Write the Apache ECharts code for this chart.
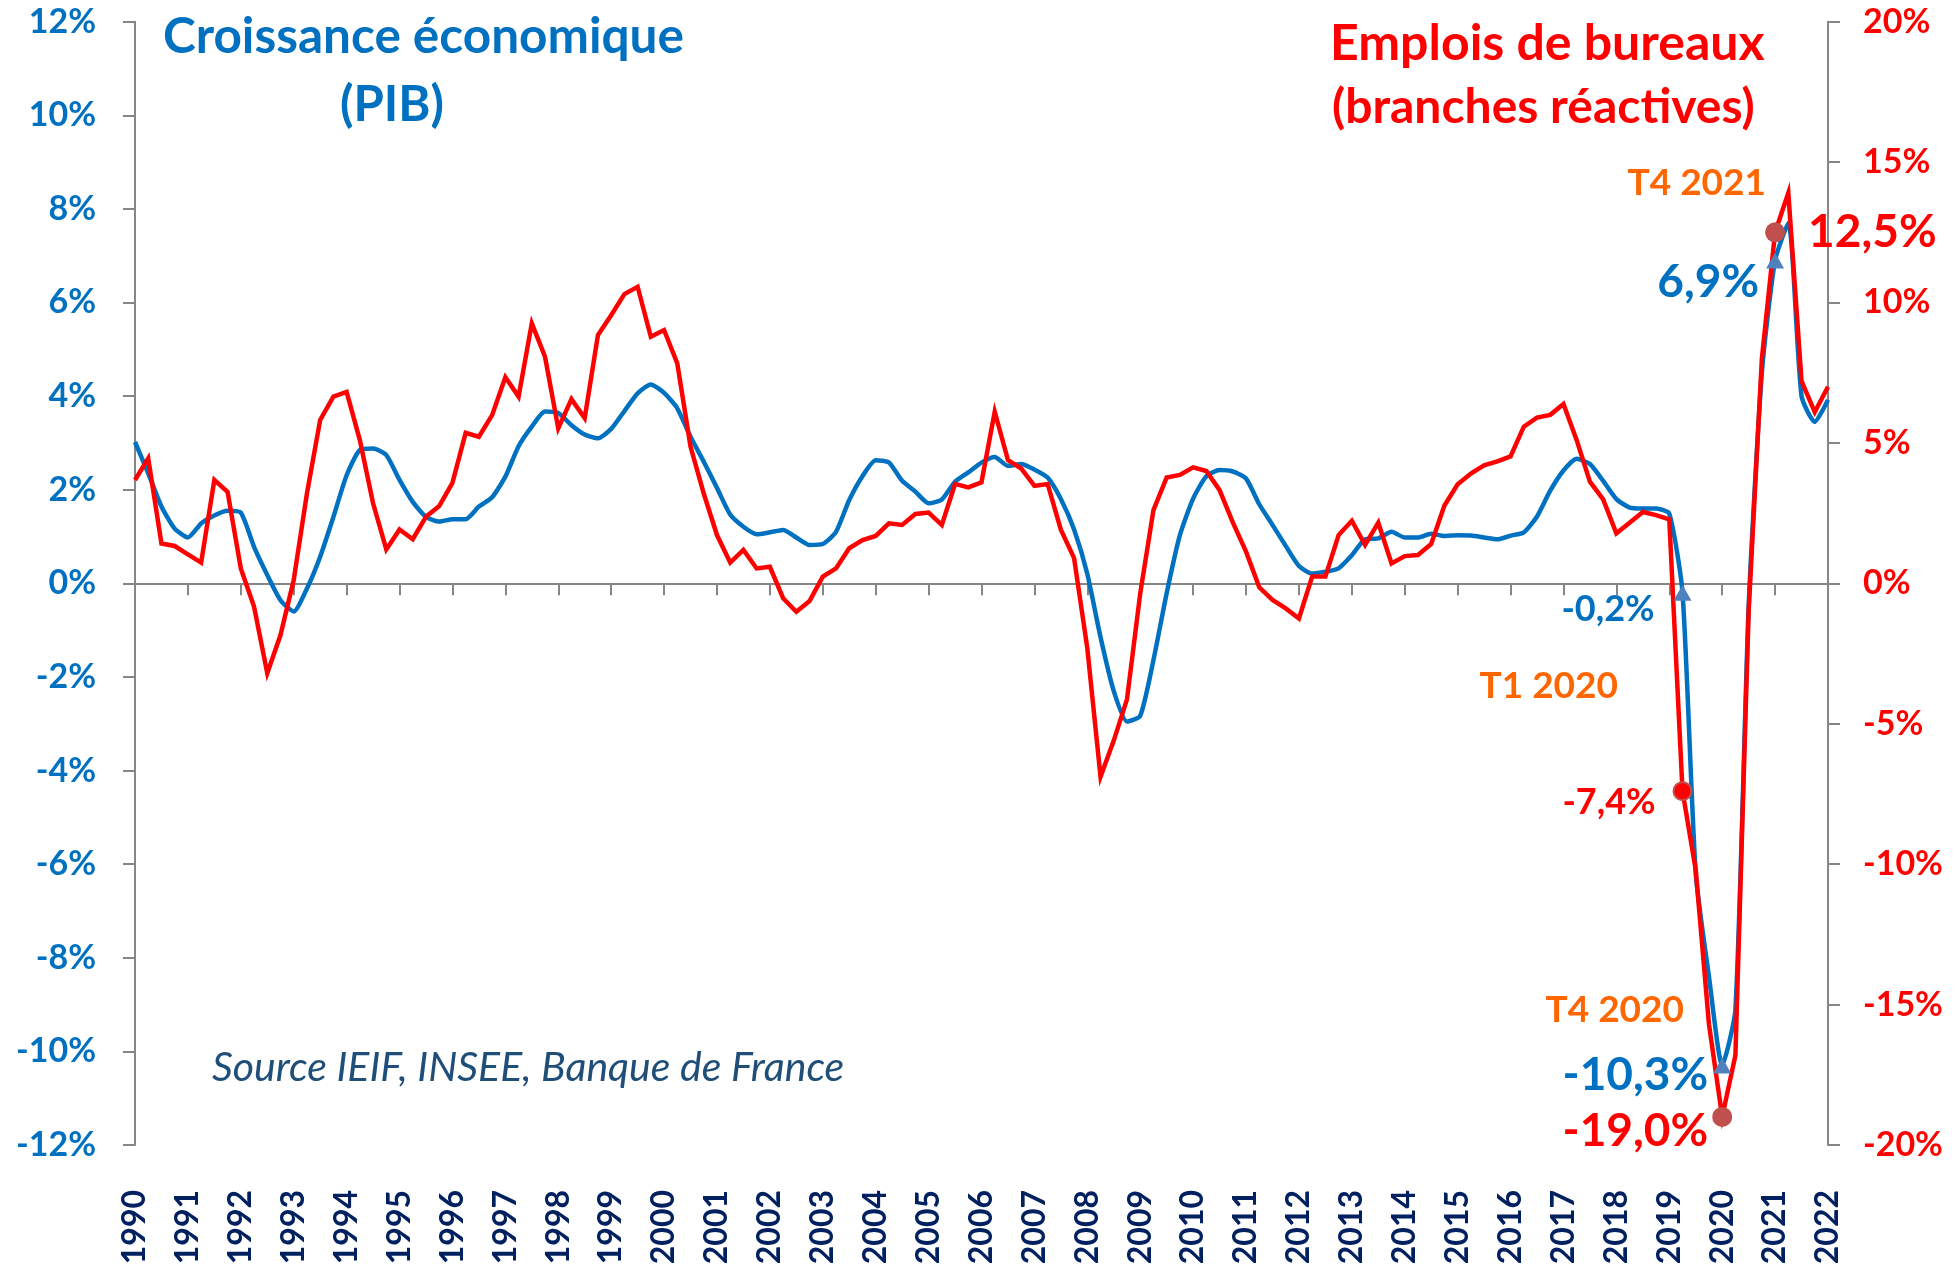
<!DOCTYPE html>
<html>
<head>
<meta charset="utf-8">
<script src="https://cdn.jsdelivr.net/npm/echarts@6/dist/echarts.min.js"></script>
<style>
  html, body { margin: 0; padding: 0; background: #ffffff; }
  #chart { width: 1954px; height: 1267px; }
</style>
</head>
<body>
<div id="chart"></div>
<script>
// Year tick labels (one per T4 quarter)
const years = ['1990','1991','1992','1993','1994','1995','1996','1997','1998','1999','2000',
  '2001','2002','2003','2004','2005','2006','2007','2008','2009','2010','2011','2012',
  '2013','2014','2015','2016','2017','2018','2019','2020','2021','2022'];

// Quarterly categories: T4 1990 ... T4 2022
const quarters = ['T4 ' + years[0]];
years.slice(1).forEach(function (y) {
  ['T1', 'T2', 'T3', 'T4'].forEach(function (q) { quarters.push(q + ' ' + y); });
});

// Croissance économique (PIB), glissement annuel en % (axe de gauche)
const pib = [
  3.02, 2.35, 1.64, 1.17, 0.98, 1.28, 1.45, 1.55, 1.51, 0.78,
  0.18, -0.36, -0.60, -0.11, 0.57, 1.42, 2.31, 2.85, 2.88, 2.74,
  2.21, 1.74, 1.42, 1.32, 1.37, 1.37, 1.64, 1.84, 2.28, 2.93,
  3.35, 3.67, 3.64, 3.38, 3.18, 3.10, 3.30, 3.68, 4.06, 4.25,
  4.07, 3.74, 3.13, 2.60, 2.04, 1.47, 1.21, 1.05, 1.09, 1.14,
  0.98, 0.82, 0.84, 1.10, 1.78, 2.29, 2.63, 2.58, 2.19, 1.96,
  1.71, 1.79, 2.17, 2.37, 2.58, 2.70, 2.51, 2.55, 2.43, 2.26,
  1.80, 1.15, 0.20, -1.15, -2.30, -2.95, -2.83, -1.64, -0.21, 1.03,
  1.81, 2.29, 2.42, 2.39, 2.24, 1.69, 1.25, 0.80, 0.37, 0.21,
  0.25, 0.32, 0.60, 0.94, 0.96, 1.10, 0.98, 0.98, 1.06, 1.01,
  1.03, 1.02, 0.98, 0.94, 1.02, 1.09, 1.43, 1.98, 2.41, 2.66,
  2.55, 2.19, 1.80, 1.62, 1.60, 1.60, 1.49, -0.2, -6.2, -8.4,
  -10.3, -9.1, -0.5, 4.5, 6.9, 7.7, 4.0, 3.45, 3.92
];

// Emplois de bureaux (branches réactives), glissement annuel en % (axe de droite)
const emplois = [
  3.68, 4.45, 1.42, 1.33, 1.03, 0.74, 3.68, 3.26, 0.53, -0.83,
  -3.20, -1.84, 0.12, 3.20, 5.82, 6.65, 6.82, 5.10, 2.85, 1.21,
  1.92, 1.57, 2.37, 2.75, 3.58, 5.36, 5.22, 5.99, 7.34, 6.65,
  9.26, 8.07, 5.52, 6.56, 5.88, 8.84, 9.55, 10.30, 10.56, 8.78,
  9.02, 7.83, 4.87, 3.20, 1.72, 0.74, 1.19, 0.53, 0.59, -0.53,
  -1.01, -0.63, 0.24, 0.53, 1.25, 1.54, 1.69, 2.14, 2.08, 2.47,
  2.52, 2.08, 3.54, 3.42, 3.60, 6.11, 4.39, 4.09, 3.47, 3.54,
  1.91, 0.90, -2.31, -6.89, -5.60, -4.13, -0.36, 2.61, 3.77, 3.86,
  4.13, 4.00, 3.32, 2.17, 1.13, -0.14, -0.59, -0.89, -1.25, 0.24,
  0.24, 1.72, 2.23, 1.37, 2.16, 0.71, 0.97, 1.01, 1.40, 2.77,
  3.53, 3.91, 4.20, 4.34, 4.52, 5.58, 5.90, 6.00, 6.39, 5.10,
  3.62, 2.99, 1.78, 2.16, 2.54, 2.43, 2.28, -7.4, -10.2, -15.7,
  -19.0, -16.8, -1.0, 8.0, 12.5, 13.9, 7.2, 6.1, 7.0
];

// Highlighted quarters: T1 2020, T4 2020, T4 2021
const T1_2020 = quarters.indexOf('T1 2020');
const T4_2020 = quarters.indexOf('T4 2020');
const T4_2021 = quarters.indexOf('T4 2021');

const FONT = 'Lato, "Open Sans", "DejaVu Sans", sans-serif';
const BLUE = '#0070C0';
const RED = '#FF0000';
const ORANGE = '#FF6600';
const GREY = '#868686';

function pct(v) { return v.toFixed(1).replace('.', ',') + '%'; }

function markLabel(color, size, position, distance, dy) {
  return {
    show: true, position: position, distance: distance, offset: [0, dy],
    color: color, opacity: 1, fontFamily: FONT, fontWeight: 'bold', fontSize: size,
    formatter: function (p) { return pct(p.value[1]); }
  };
}

function title(text, x, y, color, size, align) {
  return {
    type: 'text', x: x, y: y,
    style: { text: text, fill: color, align: align || 'left', verticalAlign: 'middle', font: 'bold ' + size + 'px ' + FONT }
  };
}

const chart = echarts.init(document.getElementById('chart'), null, { renderer: 'canvas' });

const option = {
  animation: false,
  backgroundColor: '#ffffff',
  grid: { left: 135, right: 126, top: 21.7, bottom: 122, containLabel: false, outerBoundsMode: 'none' },
  xAxis: [
    {
      type: 'category', data: quarters, boundaryGap: false,
      axisLine: { show: true, onZero: true, lineStyle: { color: GREY, width: 2 } },
      axisTick: { show: true, interval: 3, length: 12, lineStyle: { color: GREY, width: 2 } },
      axisLabel: { show: false },
      splitLine: { show: false }
    },
    {
      type: 'category', data: quarters, boundaryGap: false, position: 'bottom',
      axisLine: { show: false, onZero: false },
      axisTick: { show: false },
      splitLine: { show: false },
      axisLabel: {
        interval: 3, rotate: 90, margin: 45,
        color: '#002060', fontFamily: FONT, fontWeight: 'bold', fontSize: 32,
        formatter: function (v) { return v.slice(3); }
      }
    }
  ],
  yAxis: [
    {
      type: 'value', position: 'left', min: -12, max: 12, interval: 2,
      axisLine: { show: true, onZero: false, lineStyle: { color: GREY, width: 2 } },
      axisTick: { show: true, length: 12, lineStyle: { color: GREY, width: 2 } },
      splitLine: { show: false },
      axisLabel: { formatter: '{value}%', margin: 39, color: BLUE, fontFamily: FONT, fontWeight: 'bold', fontSize: 34 }
    },
    {
      type: 'value', position: 'right', min: -20, max: 20, interval: 5,
      axisLine: { show: true, onZero: false, lineStyle: { color: GREY, width: 2 } },
      axisTick: { show: true, length: 12, lineStyle: { color: GREY, width: 2 } },
      splitLine: { show: false },
      axisLabel: { formatter: '{value}%', margin: 35, color: RED, fontFamily: FONT, fontWeight: 'bold', fontSize: 34 }
    }
  ],
  series: [
    {
      name: 'Croissance économique (PIB)', type: 'line', xAxisIndex: 0, yAxisIndex: 0,
      data: pib, symbol: 'none', smooth: 0.2,
      lineStyle: { color: BLUE, width: 4.5 }, z: 2
    },
    {
      name: 'Emplois de bureaux (branches réactives)', type: 'line', xAxisIndex: 0, yAxisIndex: 1,
      data: emplois, symbol: 'none',
      lineStyle: { color: RED, width: 4.5, join: 'miter' }, z: 3
    },
    {
      name: 'PIB points', type: 'scatter', xAxisIndex: 0, yAxisIndex: 0,
      symbol: 'triangle', symbolSize: [18, 16], z: 4,
      itemStyle: { color: '#4F81BD', opacity: 1 },
      data: [
        { value: [T1_2020, pib[T1_2020]], label: markLabel(BLUE, 36, 'left', 19, 17) },
        { value: [T4_2020, pib[T4_2020]], label: markLabel(BLUE, 46, 'left', 5, 10) },
        { value: [T4_2021, pib[T4_2021]], label: markLabel(BLUE, 46, 'left', 7, 22) }
      ]
    },
    {
      name: 'Emplois points', type: 'scatter', xAxisIndex: 0, yAxisIndex: 1,
      symbol: 'circle', z: 5,
      itemStyle: { opacity: 1 },
      data: [
        { value: [T1_2020, emplois[T1_2020]], symbolSize: 18,
          itemStyle: { color: RED, borderColor: '#C0504D', borderWidth: 2, opacity: 1 },
          label: markLabel(RED, 36, 'left', 17, 11) },
        { value: [T4_2020, emplois[T4_2020]], symbolSize: 20,
          itemStyle: { color: '#C0504D', opacity: 1 },
          label: markLabel(RED, 46, 'left', 4, 14) },
        { value: [T4_2021, emplois[T4_2021]], symbolSize: 20,
          itemStyle: { color: '#C0504D', opacity: 1 },
          label: markLabel(RED, 46, 'right', 23, 0) }
      ]
    }
  ],
  graphic: [
    title('Croissance économique', 163, 37, BLUE, 49.5),
    title('(PIB)', 340, 105, BLUE, 49),
    title('Emplois de bureaux', 1330, 44, RED, 50),
    title('(branches réactives)', 1332, 108, RED, 48),
    title(quarters[T4_2021], 1766, 183, ORANGE, 37, 'right'),
    title(quarters[T1_2020], 1618, 686, ORANGE, 37, 'right'),
    title(quarters[T4_2020], 1684, 1010, ORANGE, 37, 'right'),
    { type: 'text', x: 212, y: 1068,
      style: { text: 'Source IEIF, INSEE, Banque de France', fill: '#1F4E79', align: 'left', verticalAlign: 'middle', font: 'italic 41px ' + FONT } }
  ]
};

chart.setOption(option);
</script>
</body>
</html>
